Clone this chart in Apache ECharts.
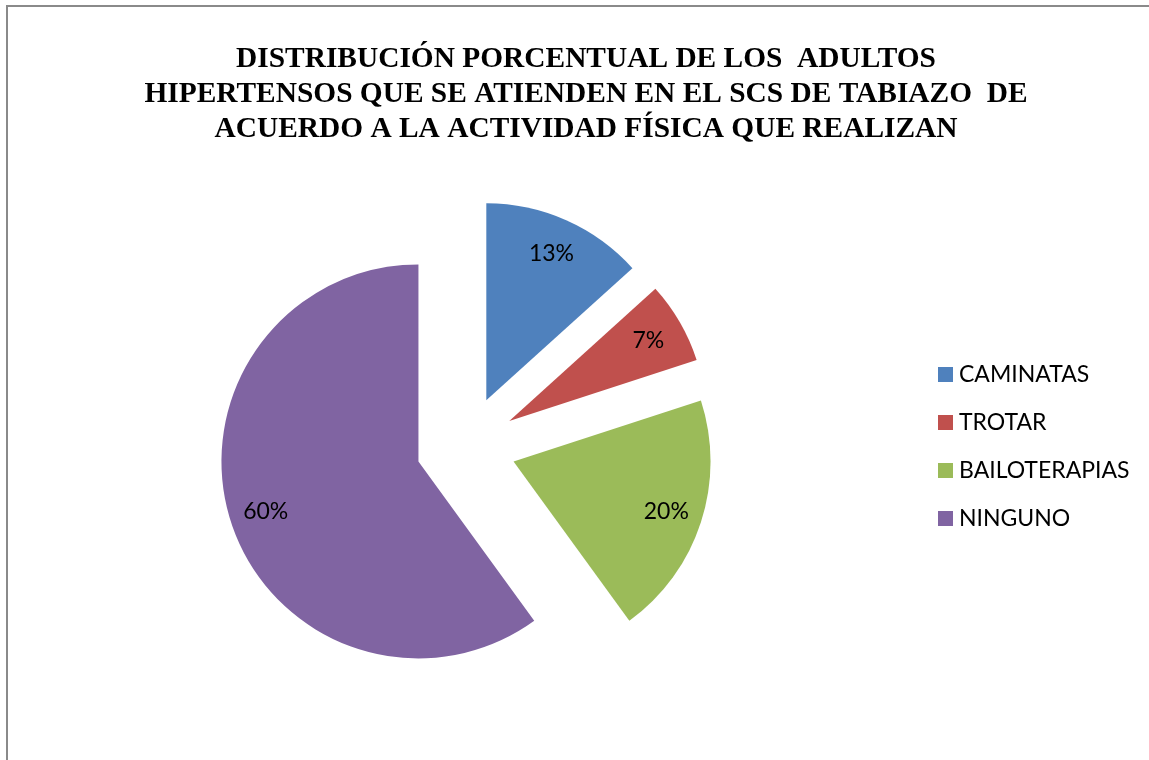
<!DOCTYPE html>
<html>
<head>
<meta charset="utf-8">
<script src="https://cdn.jsdelivr.net/npm/echarts@6/dist/echarts.min.js"></script>
<style>
  html, body { margin: 0; padding: 0; background: #fff; }
  #chart { width: 1149px; height: 760px; }
</style>
</head>
<body>
<div id="chart"></div>
<script>
const titleLines = [
  'DISTRIBUCIÓN PORCENTUAL DE LOS  ADULTOS',
  'HIPERTENSOS QUE SE ATIENDEN EN EL SCS DE TABIAZO  DE',
  'ACUERDO A LA ACTIVIDAD FÍSICA QUE REALIZAN'
];
const categories = ['CAMINATAS', 'TROTAR', 'BAILOTERAPIAS', 'NINGUNO'];
const percentages = [13.3, 6.7, 20, 60];
const colors = ['#4F81BD', '#C0504D', '#9BBB59', '#8064A2'];

const R = 197;
const center = [466, 446];
const explode = 50;

const mainData = categories.map((c, i) => ({
  name: c, value: percentages[i], selected: true,
  itemStyle: { color: colors[i] }
}));
const labelData = categories.map((c, i) => ({
  name: c, value: percentages[i], selected: true,
  itemStyle: { color: 'rgba(0,0,0,0)' }
}));

const chart = echarts.init(document.getElementById('chart'), null, { renderer: 'canvas' });
chart.setOption({
  animation: false,
  backgroundColor: '#ffffff',
  title: {
    text: titleLines.join('\n'),
    left: 581,
    top: 37,
    textAlign: 'center',
    textStyle: {
      fontFamily: '"Liberation Serif", "Times New Roman", serif',
      fontWeight: 'bold',
      fontSize: 29.4,
      lineHeight: 35,
      color: '#000'
    }
  },
  legend: {
    orient: 'vertical',
    left: 938,
    top: 363,
    padding: 0,
    icon: 'rect',
    itemWidth: 15,
    itemHeight: 15,
    itemGap: 25,
    selectedMode: false,
    data: categories,
    textStyle: {
      fontFamily: 'Lato, "Open Sans", sans-serif',
      fontSize: 23,
      lineHeight: 23,
      color: '#000',
      padding: [0, 0, 0, 1]
    }
  },
  graphic: [
    { type: 'line', shape: { x1: 6, y1: 6, x2: 1149, y2: 6 }, style: { stroke: '#8a8a8a', lineWidth: 2 }, silent: true },
    { type: 'line', shape: { x1: 7, y1: 5, x2: 7, y2: 760 }, style: { stroke: '#8a8a8a', lineWidth: 2 }, silent: true }
  ],
  series: [
    {
      type: 'pie',
      name: 'main',
      center: center,
      radius: [0, R],
      startAngle: 90,
      clockwise: true,
      selectedMode: 'multiple',
      selectedOffset: explode,
      avoidLabelOverlap: false,
      silent: true,
      itemStyle: { borderWidth: 0 },
      select: { itemStyle: { borderWidth: 0 } },
      label: { show: false },
      labelLine: { show: false },
      data: mainData
    },
    {
      type: 'pie',
      name: 'labels',
      center: center,
      radius: [R * 0.6, R],
      startAngle: 90,
      clockwise: true,
      selectedMode: 'multiple',
      selectedOffset: explode,
      avoidLabelOverlap: false,
      silent: true,
      z: 5,
      itemStyle: { borderWidth: 0 },
      select: { itemStyle: { borderWidth: 0 }, label: { show: true } },
      label: {
        show: true,
        position: 'inside',
        formatter: p => Math.round(p.percent) + '%',
        fontFamily: 'Lato, "Open Sans", sans-serif',
        fontSize: 23,
        color: '#000'
      },
      labelLine: { show: false },
      data: labelData
    }
  ]
});
</script>
</body>
</html>
